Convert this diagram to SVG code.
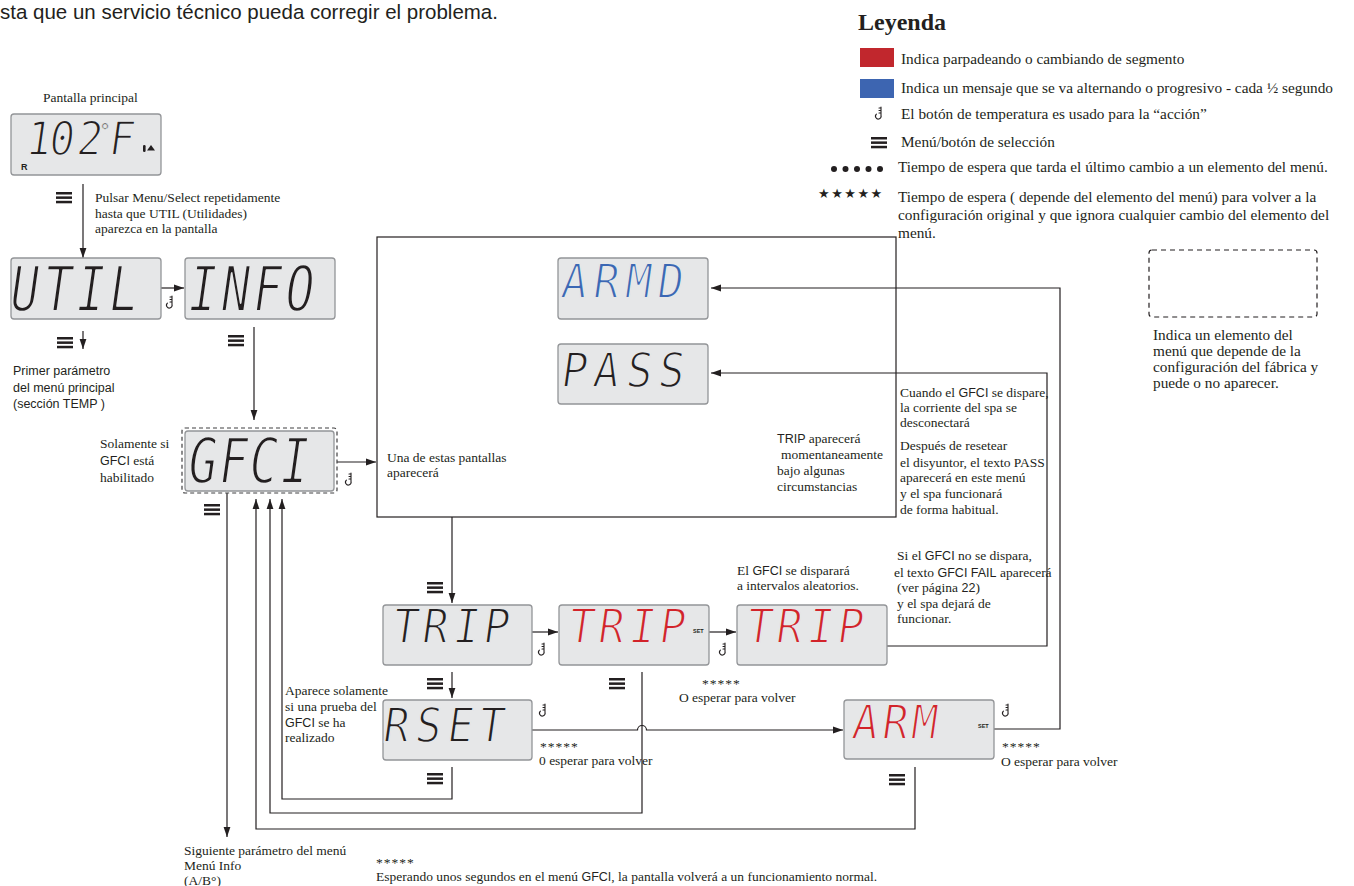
<svg xmlns="http://www.w3.org/2000/svg" width="1354" height="886" viewBox="0 0 1354 886">
<style>
 text{fill:#231f20}
 .t{font-family:"Liberation Serif","Times New Roman",serif;font-size:13.5px}
 .lg{font-family:"Liberation Serif","Times New Roman",serif;font-size:15.3px}
 .ss{font-family:"Liberation Sans",Arial,sans-serif;font-size:12.5px}
 .hd{font-family:"Liberation Sans",Arial,sans-serif;font-size:20.5px}
 .lcd{font-family:"DejaVu Sans Mono",monospace;stroke:#e6e7e8;stroke-width:1.8;stroke-linejoin:round;text-anchor:middle}
 .lcdb{stroke-width:2.1}
 .scr{fill:#e6e7e8;stroke:#939598;stroke-width:1.3}
 .red{fill:#d2232a}
 .blue{fill:#3b67b4}
 .ln{fill:none;stroke:#231f20;stroke-width:1.2}
 .arr{marker-end:url(#ah)}
 .ti{fill:none;stroke:#231f20;stroke-width:1.1;stroke-linecap:round}
 .set{font-family:"Liberation Sans",Arial,sans-serif;font-size:5.5px;font-weight:bold}
 .dash{fill:none;stroke:#414042;stroke-width:1.2;stroke-dasharray:4 3}
</style>
<defs>
 <marker id="ah" markerUnits="userSpaceOnUse" markerWidth="11" markerHeight="8" refX="10" refY="4" orient="auto">
  <path d="M0,0.6 L10,4 L0,7.4z" fill="#231f20"/>
 </marker>
 <g id="menu" fill="#231f20">
  <rect x="0" y="0" width="16" height="2.5"/>
  <rect x="0" y="4.4" width="16" height="2.5"/>
  <rect x="0" y="8.8" width="16" height="2.5"/>
 </g>
 <path id="temp" class="ti" d="M0,0 V8.5 A2.8,2.8 0 1 1 -4.6,7.2 M0,1 H-2 M0,3.5 H-2 M0,6 H-2"/>
</defs>

<text class="hd" x="0" y="19">sta que un servicio técnico pueda corregir el problema.</text>

<g id="legend">
 <text x="858" y="30" font-family="Liberation Serif,serif" font-size="24" font-weight="bold">Leyenda</text>
 <rect x="860" y="48" width="34" height="19" fill="#c1272d"/>
 <text class="lg" x="901" y="64">Indica parpadeando o cambiando de segmento</text>
 <rect x="860" y="79" width="34" height="19" fill="#3d65b1"/>
 <text class="lg" x="901" y="93">Indica un mensaje que se va alternando o progresivo -  cada ½ segundo</text>
 <use href="#temp" x="881" y="107"/>
 <text class="lg" x="901" y="119">El botón de temperatura es usado para la “acción”</text>
 <use href="#menu" x="871" y="137"/>
 <text class="lg" x="901" y="147">Menú/botón de selección</text>
 <g fill="#231f20">
  <circle cx="834" cy="169" r="3"/><circle cx="845.5" cy="169" r="3"/><circle cx="857" cy="169" r="3"/><circle cx="868.5" cy="169" r="3"/><circle cx="880" cy="169" r="3"/>
 </g>
 <text class="lg" x="898" y="172">Tiempo de espera que tarda el último cambio a un elemento del menú.</text>
 <text x="818" y="198" font-family="DejaVu Sans,sans-serif" font-size="13" letter-spacing="1.5">★★★★★</text>
 <text class="lg" x="898" y="202">Tiempo de espera ( depende del elemento del menú) para volver a la</text>
 <text class="lg" x="898" y="220">configuración original y que ignora cualquier cambio del elemento del</text>
 <text class="lg" x="898" y="238">menú.</text>
 <rect class="dash" x="1149" y="250" width="168" height="67" rx="3" style="stroke-dasharray:5 4;stroke:#231f20"/>
 <text class="lg" x="1153" y="340">Indica un elemento del</text>
 <text class="lg" x="1153" y="356">menú que depende de la</text>
 <text class="lg" x="1153" y="372">configuración del fábrica y</text>
 <text class="lg" x="1153" y="388">puede o no aparecer.</text>
</g>

<g id="connectors">
 <path class="ln arr" d="M83,184 V258"/>
 <path class="ln arr" d="M161,288 H184"/>
 <path class="ln arr" d="M83,331 V349"/>
 <path class="ln arr" d="M254,327 V420"/>
 <path class="ln arr" d="M337,462 H376"/>
 <path class="ln arr" d="M452,517 V603"/>
 <path class="ln arr" d="M532,632 H558"/>
 <path class="ln arr" d="M709,632 H736"/>
 <path class="ln arr" d="M452,672 V698"/>
 <path class="ln arr" d="M532,730 H637.5 A4.5,4.5 0 0 1 646.5,730 H843"/>
 <path class="ln arr" d="M994,729 H1060 V288 H711"/>
 <path class="ln arr" d="M887,646 H1047 V373 H711"/>
 <path class="ln arr" d="M227,493 V837"/>
 <path class="ln arr" d="M915,767 V829 H256 V499"/>
 <path class="ln arr" d="M642,672 V813 H270 V499"/>
 <path class="ln arr" d="M452,767 V799 H282 V499"/>
 <use href="#menu" x="56" y="192"/>
 <use href="#menu" x="57" y="337"/>
 <use href="#menu" x="228" y="335"/>
 <use href="#menu" x="204" y="504"/>
 <use href="#menu" x="427" y="582"/>
 <use href="#menu" x="427" y="678"/>
 <use href="#menu" x="609" y="678"/>
 <use href="#menu" x="427" y="773"/>
 <use href="#menu" x="889" y="774"/>
 <use href="#temp" x="172" y="296"/>
 <use href="#temp" x="351" y="473"/>
 <use href="#temp" x="544" y="643"/>
 <use href="#temp" x="725" y="643"/>
 <use href="#temp" x="545" y="704"/>
 <use href="#temp" x="1008" y="704"/>
</g>

<g id="n-main">
 <text class="t" x="43" y="102">Pantalla principal</text>
 <rect class="scr" x="11" y="114" width="150" height="61" rx="3"/>
 <text class="lcd" font-size="47" transform="translate(0,155) skewX(-8) scale(0.9,1)" x="41.1 66.7 97.8 133.3">102F</text>
 <text class="lcd" font-size="20" style="stroke-width:0.6" x="105" y="138">°</text>
 <text x="21" y="170" font-family="Liberation Sans,sans-serif" font-size="9" font-weight="bold">R</text>
 <rect x="143" y="145" width="2.6" height="7" rx="1.2" fill="#231f20"/>
 <path d="M147,150.5 L151,145 L155,150.5z" fill="#231f20"/>
 <text class="t" x="95" y="202">Pulsar Menu/Select repetidamente</text>
 <text class="t" x="95" y="218">hasta que UTIL (Utilidades)</text>
 <text class="t" x="95" y="233">aparezca en la pantalla</text>
</g>

<g id="n-util">
 <rect class="scr" x="11" y="258" width="150" height="61" rx="3"/>
 <text class="lcd lcdb" font-size="63" transform="translate(0,311) skewX(-8) scale(0.76,1)" x="28.9 72.4 115.8 159.2">UTIL</text>
 <text class="ss" x="13" y="375">Primer parámetro</text>
 <text class="ss" x="13" y="392">del menú principal</text>
 <text class="ss" x="13" y="408">(sección TEMP )</text>
</g>

<g id="n-info">
 <rect class="scr" x="185" y="258" width="150" height="61" rx="3"/>
 <text class="lcd lcdb" font-size="63" transform="translate(0,311) skewX(-8) scale(0.76,1)" x="263.2 306.6 348.7 390.8">INFO</text>
</g>

<g id="n-gfci">
 <rect class="dash" x="182" y="428" width="155" height="65" rx="3"/>
 <rect class="scr" x="185" y="431" width="149" height="60" rx="3"/>
 <text class="lcd lcdb" font-size="63" transform="translate(0,483) skewX(-8) scale(0.76,1)" x="263.2 303.9 343.4 384.2">GFCI</text>
 <text class="t" x="100" y="448">Solamente si</text>
 <text class="t" x="100" y="465"><tspan class="ss">GFCI</tspan> está</text>
 <text class="t" x="100" y="482">habilitado</text>
</g>

<g id="n-group">
 <rect class="ln" x="377" y="237" width="519" height="280"/>
 <text class="t" x="387" y="462">Una de estas pantallas</text>
 <text class="t" x="387" y="477">aparecerá</text>
 <text class="t" x="777" y="443"><tspan class="ss">TRIP</tspan> aparecerá</text>
 <text class="t" x="781" y="459">momentaneamente</text>
 <text class="t" x="777" y="475">bajo algunas</text>
 <text class="t" x="777" y="491">circumstancias</text>
</g>

<g id="n-armd">
 <rect class="scr" x="558" y="258" width="150" height="61" rx="3"/>
 <text class="lcd blue" font-size="48" transform="translate(0,298) skewX(-8) scale(0.9,1)" x="636.1 671.7 707.2 742.8">ARMD</text>
</g>

<g id="n-pass">
 <rect class="scr" x="558" y="344" width="150" height="60" rx="3"/>
 <text class="lcd" font-size="48" transform="translate(0,387) skewX(-8) scale(0.9,1)" x="636.1 671.7 708.3 743.9">PASS</text>
</g>

<g id="n-notes">
 <text class="t" x="900" y="397">Cuando el <tspan class="ss">GFCI</tspan> se dispare,</text>
 <text class="t" x="900" y="412">la corriente del spa se</text>
 <text class="t" x="900" y="427">desconectará</text>
 <text class="t" x="900" y="450">Después de resetear</text>
 <text class="t" x="900" y="467">el disyuntor, el texto PASS</text>
 <text class="t" x="900" y="482">aparecerá en este menú</text>
 <text class="t" x="900" y="498">y el spa funcionará</text>
 <text class="t" x="900" y="514">de forma habitual.</text>
 <text class="t" x="897" y="560">Si el <tspan class="ss">GFCI</tspan> no se dispara,</text>
 <text class="t" x="894" y="577">el texto <tspan class="ss">GFCI FAIL</tspan> aparecerá</text>
 <text class="t" x="897" y="592">(ver página <tspan class="ss">22</tspan>)</text>
 <text class="t" x="897" y="608">y el spa dejará de</text>
 <text class="t" x="897" y="623">funcionar.</text>
</g>

<g id="n-trip1">
 <rect class="scr" x="383" y="605" width="149" height="60" rx="3"/>
 <text class="lcd" font-size="48" transform="translate(0,643) skewX(-8) scale(0.9,1)" x="448.3 481.7 516.1 549.4">TRIP</text>
</g>

<g id="n-trip2">
 <rect class="scr" x="559" y="605" width="150" height="60" rx="3"/>
 <text class="lcd red" font-size="48" transform="translate(0,643) skewX(-8) scale(0.9,1)" x="643.9 677.2 711.7 745">TRIP</text>
 <text class="set" x="693" y="633">SET</text>
 <text class="t" x="702" y="688" letter-spacing="1">*****</text>
 <text class="t" x="679" y="702">O esperar para volver</text>
</g>

<g id="n-trip3">
 <rect class="scr" x="737" y="605" width="150" height="60" rx="3"/>
 <text class="lcd red" font-size="48" transform="translate(0,643) skewX(-8) scale(0.9,1)" x="841.7 875 909.4 942.8">TRIP</text>
 <text class="t" x="737" y="575">El <tspan class="ss">GFCI</tspan> se disparará</text>
 <text class="t" x="737" y="590">a intervalos aleatorios.</text>
</g>

<g id="n-rset">
 <rect class="scr" x="383" y="700" width="149" height="60" rx="3"/>
 <text class="lcd" font-size="48" transform="translate(0,742) skewX(-8) scale(0.9,1)" x="438.3 473.9 509.4 543.9">RSET</text>
 <text class="t" x="285" y="695">Aparece solamente</text>
 <text class="t" x="285" y="711">si una prueba del</text>
 <text class="t" x="285" y="727"><tspan class="ss">GFCI</tspan> se ha</text>
 <text class="t" x="285" y="742">realizado</text>
 <text class="t" x="540" y="751" letter-spacing="1">*****</text>
 <text class="t" x="539" y="765">0 esperar para volver</text>
</g>

<g id="n-arm">
 <rect class="scr" x="844" y="700" width="150" height="59" rx="3"/>
 <text class="lcd red" font-size="48" transform="translate(0,739) skewX(-8) scale(0.9,1)" x="959.4 992.8 1025">ARM</text>
 <text class="set" x="978" y="728">SET</text>
 <text class="t" x="1002" y="751" letter-spacing="1">*****</text>
 <text class="t" x="1001" y="766">O esperar para volver</text>
</g>

<g id="n-next">
 <text class="t" x="184" y="855">Siguiente parámetro del menú</text>
 <text class="t" x="184" y="870">Menú Info</text>
 <text class="t" x="184" y="885">(A/B°)</text>
</g>

<g id="n-footnote">
 <text class="t" x="376" y="867" letter-spacing="1">*****</text>
 <text class="t" x="376" y="881">Esperando unos segundos en el menú <tspan class="ss">GFCI</tspan>, la pantalla volverá a un funcionamiento normal.</text>
</g>
</svg>
